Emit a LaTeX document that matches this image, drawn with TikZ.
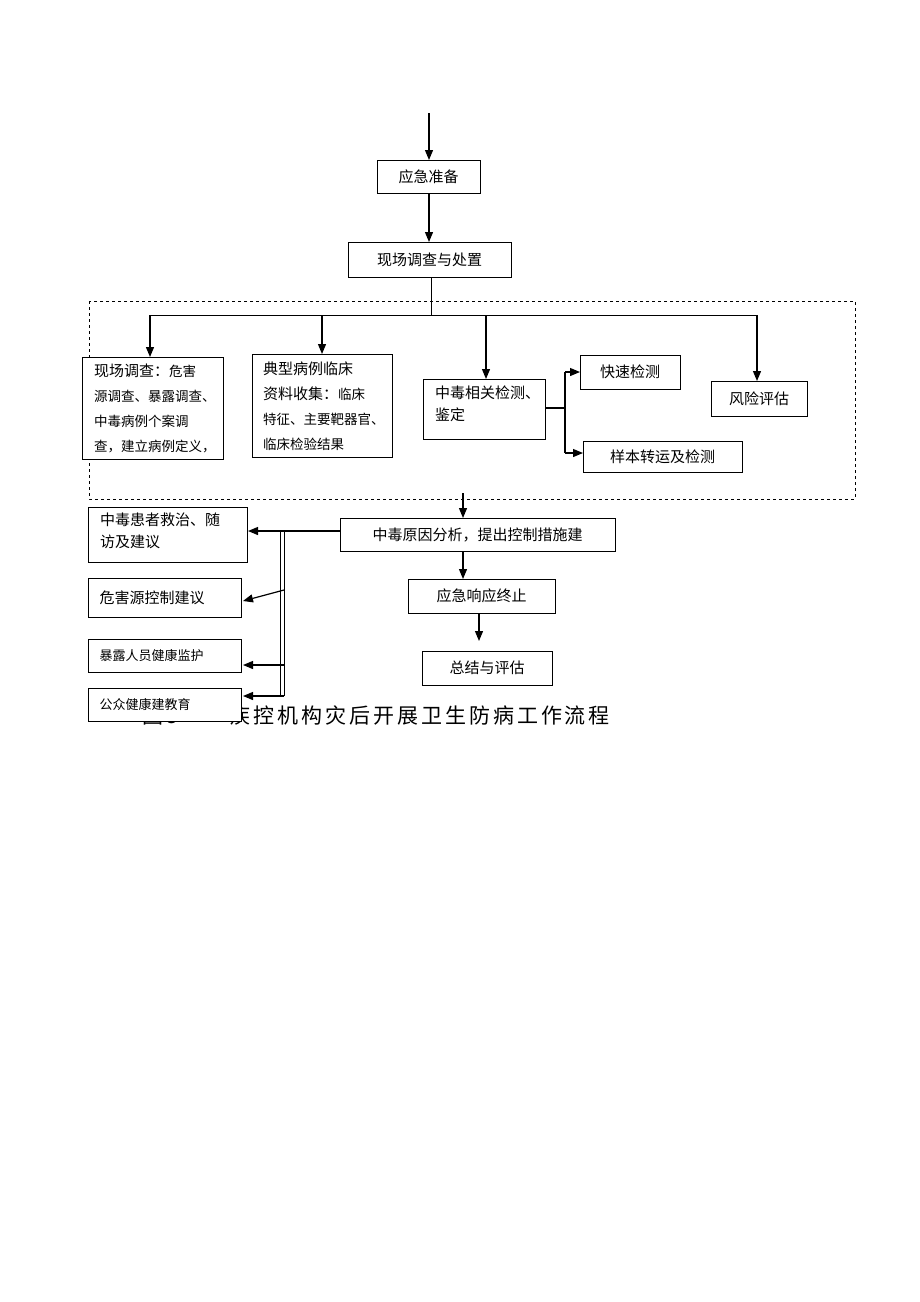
\documentclass[tikz,border=0pt]{standalone}
\usepackage{fontspec}
\setmainfont{Noto Sans CJK SC}
\usetikzlibrary{arrows.meta}
\begin{document}
\begin{tikzpicture}[x=1pt,y=-1pt,
  bx/.style={draw,line width=0.9pt,fill=white},
  ar/.style={-{Triangle[length=10pt,width=8pt]},line width=1.2pt},
  ln/.style={line width=0.9pt},
  tx/.style={anchor=north west,align=left,inner sep=0pt,font=\fontsize{15}{22}\selectfont}]
\useasboundingbox (0,0) rectangle (920,1302);
\draw[dashed,line width=0.7pt] (89,301) rectangle (855,499);
% caption (partly hidden)
\node[anchor=west,inner sep=0pt,font=\fontsize{21}{24}\selectfont\addfontfeature{LetterSpace=14}] (cap) at (142,715) {图3\hspace{52pt}疾控机构灾后开展卫生防病工作流程};
\coordinate (top) at (429,113);
\draw[bx] (377,160) rectangle (480,193); \node (a) at (428.5,176.5) {\fontsize{15}{18}\selectfont 应急准备};
\draw[bx] (348,242) rectangle (511,277); \node (b) at (429.5,259.5) {\fontsize{15}{18}\selectfont 现场调查与处置};
\draw[ar] (top) -- (429,160);
\draw[ar] (429,193) -- (429,242);
\draw[ln] (431,277) -- (431,315);
\draw[ln] (150,315) -- (757,315);
\draw[ar] (150,315) -- (150,357);
\draw[ar] (322,315) -- (322,354);
\draw[ar] (486,315) -- (486,379);
\draw[ar] (757,315) -- (757,381);
\draw[bx] (82,357) rectangle (223,459);
\node[tx,font=\fontsize{13.5}{25}\selectfont] (c1) at (94,364) {{\fontsize{15}{18}\selectfont 现场调查：}危害\\源调查、暴露调查、\\中毒病例个案调\\查，建立病例定义，};
\draw[bx] (252,354) rectangle (392,457);
\node[tx,font=\fontsize{13.5}{25}\selectfont] (c2) at (263,362) {{\fontsize{15}{18}\selectfont 典型病例临床}\\{\fontsize{15}{18}\selectfont 资料收集：}临床\\特征、主要靶器官、\\临床检验结果};
\draw[bx] (423,379) rectangle (545,439);
\node[tx] (c3) at (435,386) {中毒相关检测、\\鉴定};
\draw[bx] (580,355) rectangle (680,389); \node (d1) at (630,372) {\fontsize{15}{18}\selectfont 快速检测};
\draw[bx] (711,381) rectangle (807,416); \node (d2) at (759,398.5) {\fontsize{15}{18}\selectfont 风险评估};
\draw[bx] (583,441) rectangle (742,472); \node (d3) at (662.5,456.5) {\fontsize{15}{18}\selectfont 样本转运及检测};
\draw[ln,line width=1.5pt] (545,408) -- (565,408);
\draw[ln,line width=1.5pt] (565,372) -- (565,453);
\draw[ar] (565,372) -- (580,372);
\draw[ar] (565,453) -- (583,453);
\draw[ar] (463,493) -- (463,518);
\draw[bx] (340,518) rectangle (615,551); \node (e) at (477.5,534.5) {\fontsize{15}{18}\selectfont 中毒原因分析，提出控制措施建};
\draw[ar] (463,551) -- (463,579);
\draw[bx] (408,579) rectangle (555,613); \node (f) at (481.5,596) {\fontsize{15}{18}\selectfont 应急响应终止};
\draw[ar] (479,613) -- (479,641);
\draw[bx] (422,651) rectangle (552,685); \node (g) at (487,668) {\fontsize{15}{18}\selectfont 总结与评估};
% left branch
\draw[ar] (340,531) -- (248,531);
\draw[ln] (280,531) -- (280,696);
\draw[ln] (284,531) -- (284,696);
\draw[ar] (284,590) -- (243,601);
\draw[ar] (284,665) -- (243,665);
\draw[ar] (284,696) -- (243,696);
\draw[bx] (88,507) rectangle (247,562);
\node[tx] (h1) at (100,513) {中毒患者救治、随\\访及建议};
\draw[bx] (88,578) rectangle (241,617); \node[anchor=west] (h2) at (96,597.5) {\fontsize{15}{18}\selectfont 危害源控制建议};
\draw[bx] (88,639) rectangle (241,672); \node[anchor=west] (h3) at (96,655.5) {\fontsize{13}{16}\selectfont 暴露人员健康监护};
\draw[bx] (88,688) rectangle (241,721); \node[anchor=west] (h4) at (96,704.5) {\fontsize{13}{16}\selectfont 公众健康建教育};
\end{tikzpicture}
\end{document}
